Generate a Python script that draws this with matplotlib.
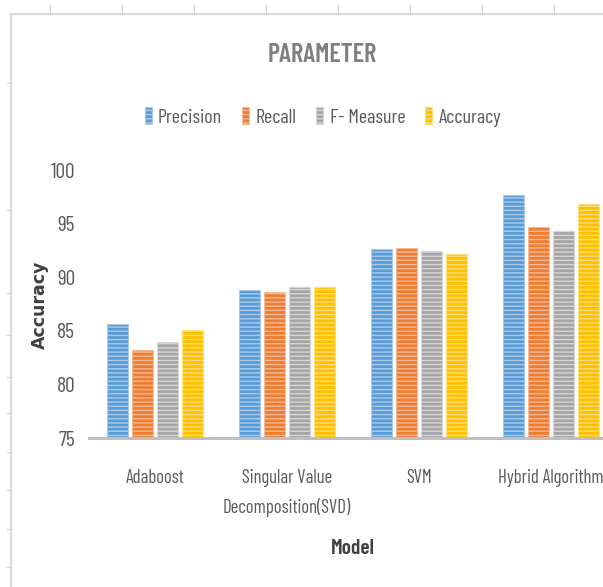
import matplotlib
matplotlib.use("Agg")
import matplotlib.pyplot as plt
import numpy as np

categories = ["Adaboost", "Singular Value\nDecomposition(SVD)", "SVM", "Hybrid Algorithm"]
series_names = ["Precision", "Recall", "F- Measure", "Accuracy"]
precision = [85.6, 88.8, 92.6, 97.7]
recall = [83.2, 88.6, 92.7, 94.7]
f_measure = [84.0, 89.1, 92.4, 94.3]
accuracy = [85.1, 89.1, 92.2, 96.8]
yticks = [75, 80, 85, 90, 95, 100]

colors = ["#5B9BD5", "#ED7D31", "#A5A5A5", "#FFC000"]
light = ["#A9CBEB", "#F6B995", "#D6D6D6", "#FFDD7A"]

NARROW = ["Barlow Condensed", "DejaVu Sans"]
plt.rcParams["hatch.linewidth"] = 1.0

W, H = 603, 587
fig = plt.figure(figsize=(W / 100, H / 100), dpi=100)

def fx(px):
    return px / W

def fy(py):
    return 1 - py / H

# spreadsheet-like frame
fig.add_artist(plt.Line2D([fx(11), fx(11)], [fy(14), 0], color="#DADADA", lw=1.6))
fig.add_artist(plt.Line2D([fx(11), 1], [fy(14), fy(14)], color="#DADADA", lw=1.6))
for xx in range(50, 603, 72):
    fig.add_artist(plt.Line2D([fx(xx), fx(xx)], [fy(5), fy(13)], color="#D0D0D0", lw=0.8))
for yy in [83, 210, 293, 335, 377, 413, 452, 490, 529, 567]:
    fig.add_artist(plt.Line2D([fx(7), fx(10)], [fy(yy), fy(yy)], color="#D0D0D0", lw=0.8))

ax = fig.add_axes([fx(89), fy(438), 528 / W, (438 - 170) / H])
data = [precision, recall, f_measure, accuracy]
x = np.arange(len(categories))
slot = 25 / 132
bw = 21 / 132
handles = []
for i, (vals, c, lc, name) in enumerate(zip(data, colors, light, series_names)):
    b = ax.bar(x + (i - 1.5) * slot, np.array(vals) - 75, bw, bottom=75,
               color=c, edgecolor=lc, hatch="----", linewidth=0.8, label=name)
    handles.append(b)

ax.set_xlim(-0.5, 3.5)
ax.set_ylim(75, 100)
ax.set_yticks(yticks)
ax.set_yticklabels([str(t) for t in yticks], family=NARROW, fontsize=15.5, color="#595959")
ax.set_xticks(x)
ax.set_xticklabels(categories, family=NARROW, fontsize=13.5, color="#595959", linespacing=1.75)
ax.tick_params(axis="both", length=0)
ax.tick_params(axis="x", pad=22)
ax.tick_params(axis="y", pad=10)
for s in ["top", "right", "left"]:
    ax.spines[s].set_visible(False)
ax.spines["bottom"].set_color("#BFBFBF")
ax.spines["bottom"].set_linewidth(2.2)

fig.text(fx(322), fy(55), "PARAMETER", ha="center", va="center", family=NARROW,
         fontsize=19, fontweight="semibold", color="#7F7F7F")
fig.text(fx(40), fy(305), "Accuracy", ha="center", va="center", rotation=90,
         fontsize=12.5, fontweight="bold", color="#404040")
fig.text(fx(353), fy(548), "Model", ha="center", va="center", family=NARROW,
         fontsize=15.5, fontweight="semibold", color="#404040")

fig.legend(handles=handles, labels=series_names, loc="center", bbox_to_anchor=(fx(323), fy(117)),
           ncol=4, frameon=False, handlelength=0.35, handleheight=0.9, handletextpad=0.3,
           columnspacing=1.0, prop={"family": NARROW, "size": 14.5},
           labelcolor="#595959")

fig.savefig("out.png", dpi=100)
